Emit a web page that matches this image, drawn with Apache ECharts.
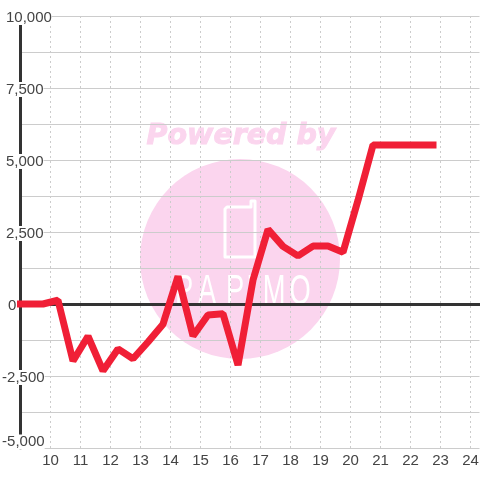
<!DOCTYPE html>
<html><head><meta charset="utf-8">
<style>html,body{margin:0;padding:0;background:#fff}#c{width:480px;height:480px}</style>
<script src="https://cdn.jsdelivr.net/npm/echarts@6/dist/echarts.min.js"></script>
</head><body><div id="c"></div>
<script>
const hours=[9,9.75,10.25,10.75,11.25,11.75,12.25,12.75,13.25,13.75,14.25,14.75,15.25,15.75,16.25,16.75,17.25,17.75,18.25,18.75,19.25,19.75,20.25,20.75,21.25,21.75,22.25,22.75];
const values=[0,0,130,-1980,-1120,-2320,-1560,-1900,-1320,-700,960,-1110,-380,-340,-2120,830,2590,2000,1670,2010,2010,1800,3600,5520,5520,5520,5520,5520];
const yTickLabels=[-5000,-2500,0,2500,5000,7500,10000];
const watermarkTitle='Powered by';
const logoLetters=['P','A','P','I','M','O'];
const logoCenters=[184,207,235,250,274,300];
const chart=echarts.init(document.getElementById('c'),null,{renderer:'canvas'});
const fmt=v=>{
  const s=Math.abs(v).toLocaleString('en-US');
  if(v<0) return '{s0| }{t|-'+s+'}';
  if(v===0) return '{s6| }{t|0}';
  return '{s4| }{t|'+s+'}';
};
const spacer=w=>({width:w,fontSize:1,lineHeight:12});
const wm='#fbd5ee';
chart.setOption({
  animation:false,
  backgroundColor:'#fff',
  grid:{left:20.5,right:0.5,top:16,bottom:32,containLabel:false,outerBoundsMode:'none'},
  xAxis:[{type:'value',min:9,max:24.3,interval:1,
    axisLine:{show:false,onZero:false},axisTick:{show:false},
    axisLabel:{color:'#444',fontSize:15,fontFamily:'Liberation Sans',margin:5,showMinLabel:false,showMaxLabel:false},
    splitLine:{show:true,showMinLine:false,showMaxLine:false,lineStyle:{color:'#ccc',type:[2,3],width:1}}},
   {type:'value',min:9,max:24.3,interval:1,position:'bottom',
    axisLine:{show:true,onZero:true,onZeroAxisIndex:0,lineStyle:{color:'#333',width:3}},
    axisTick:{show:false},axisLabel:{show:false},splitLine:{show:false}}],
  yAxis:{type:'value',min:-5000,max:10000,interval:1250,
    axisLine:{show:true,onZero:false,lineStyle:{color:'#333',width:3}},axisTick:{show:false},
    axisLabel:{customValues:yTickLabels,color:'#444',fontSize:15,fontFamily:'Liberation Sans',align:'left',margin:18.5,verticalAlignMinLabel:'bottom',
      formatter:fmt,hideOverlap:false,padding:[3,0,0,0],
      rich:{t:{color:'#444',fontSize:15,lineHeight:12,fontFamily:'Liberation Sans',backgroundColor:'#fff'},s0:spacer(0.1),s4:spacer(4),s6:spacer(6)}},
    splitLine:{show:true,lineStyle:{color:'#ccc',width:1}}},
  graphic:{elements:[
    {type:'circle',z:-10,silent:true,shape:{cx:240,cy:259,r:100},style:{fill:wm}},
    {type:'text',z:-10,silent:true,style:{text:watermarkTitle,x:241,y:136.5,align:'center',verticalAlign:'middle',fill:wm,stroke:wm,lineWidth:1,font:'italic bold 28.5px "DejaVu Sans"'}},
    {type:'polygon',z:-9,silent:true,shape:{points:[[225,209],[227,207],[251,207],[251,201],[255,201],[255,257],[225,257]]},style:{fill:'none',stroke:'#fff',lineWidth:3,lineJoin:'round'}},
    ...logoLetters.map((ch,i)=>({type:'text',z:-9,silent:true,x:logoCenters[i],y:292,scaleX:1.3,scaleY:2,style:{text:ch,x:0,y:0,align:'center',verticalAlign:'middle',fill:'#fff',font:'21px "Liberation Sans"'}}))
  ]},
  series:[{type:'line',xAxisIndex:0,data:hours.map((h,i)=>[h,values[i]]),showSymbol:false,symbol:'none',clip:false,z:5,
    lineStyle:{color:'#f01f36',width:7,cap:'square',join:'bevel'}}]
});
</script></body></html>
